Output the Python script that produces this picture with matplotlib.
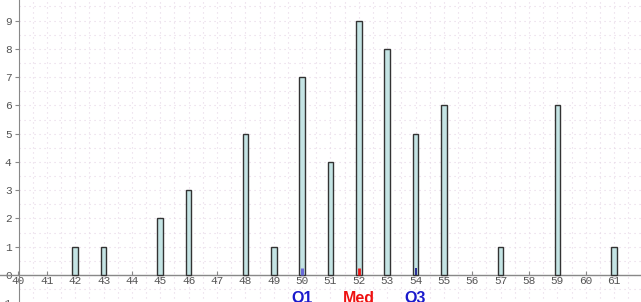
import matplotlib.pyplot as plt
from matplotlib.lines import Line2D

values = [42, 43, 45, 46, 48, 49, 50, 51, 52, 53, 54, 55, 57, 59, 61]
counts = [1, 1, 2, 3, 5, 1, 7, 4, 9, 8, 5, 6, 1, 6, 1]
x_ticks = list(range(40, 62))
y_ticks = list(range(-1, 10))
stat_names = ["Q1", "Med", "Q3"]
stat_values = [50, 52, 54]
stat_colors = ["#1a1acc", "#ee1111", "#1a1acc"]
marker_colors = ["#6a6ad8", "#ee1111", "#10108a"]

fig = plt.figure(figsize=(6.41, 3.02), dpi=100)
# axes runs a little past the bottom of the figure, so the -1 label is cut off
ax = fig.add_axes([18.5 / 641, -4.0 / 302, 1 - 18.5 / 641, 306.0 / 302])
ax.set_xlim(40, 61.95)
ax.set_ylim(-1.1, 9.73)

ax.bar(values, counts, width=0.2, color="#c4e4e4", edgecolor="#333333", linewidth=1.0, zorder=3)

# quartile / median markers on the axis
for v, c, w in zip(stat_values, marker_colors, [2.2, 2.0, 1.2]):
    ax.plot([v, v], [0, 0.25], color=c, linewidth=w, zorder=4, solid_capstyle="butt")
for name, v, c in zip(stat_names, stat_values, stat_colors):
    ax.text(v, -0.82, name, color=c, fontsize=11.5, fontweight="bold",
            ha="center", va="center", family="Liberation Sans")

for s in ["top", "right"]:
    ax.spines[s].set_visible(False)
ax.spines["left"].set_color("#888888")
ax.spines["bottom"].set_position(("data", 0))
ax.spines["bottom"].set_visible(False)
# x axis line goes out past the y axis to the left edge
ax.add_line(Line2D([39.3, 62], [0, 0], color="#888888", linewidth=1.0, clip_on=False, zorder=2))

ax.set_xticks(x_ticks)
ax.set_yticks(y_ticks)
ax.set_xticks([t + 0.5 for t in x_ticks], minor=True)
ax.set_yticks([t + 0.5 for t in y_ticks], minor=True)
ax.tick_params(axis="x", direction="in", length=3, color="#888888", labelcolor="#555555",
               labelsize=8, pad=1)
ax.tick_params(axis="y", direction="out", length=3, color="#888888", labelcolor="#555555",
               labelsize=8, pad=2)
ax.tick_params(which="minor", length=0)
for lab in ax.get_xticklabels() + ax.get_yticklabels():
    lab.set_family("Liberation Mono")

ax.grid(True, which="both", color="#e6d6e6", linestyle=(0, (1, 3.5)), linewidth=0.8, zorder=0)
ax.set_axisbelow(True)

fig.savefig("out.png", dpi=100)
